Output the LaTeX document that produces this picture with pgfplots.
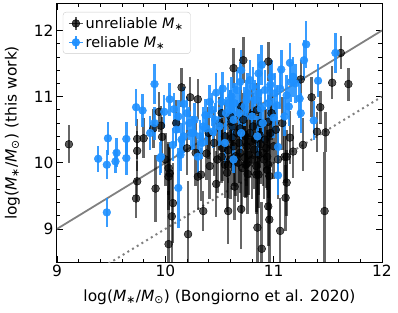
\documentclass[border=0pt]{standalone}
\usepackage{pgfplots}
\usepackage{pgfplotstable}
\pgfplotsset{compat=1.18}
\usepackage{fontspec}
\setmainfont{DejaVu Sans}
\definecolor{dblue}{RGB}{30,144,255}

\pgfplotstableread{
x y e
9.11 10.28 0.29
9.74 10.36 0.30
9.74 10.18 0.30
9.80 10.37 0.30
9.73 9.46 0.30
9.74 9.72 0.30
9.91 9.61 0.50
10.03 9.92 0.40
10.03 9.79 0.50
10.07 9.39 0.60
10.06 9.19 0.70
10.21 8.92 0.80
10.03 8.77 0.80
10.30 9.79 0.50
10.35 9.27 0.30
10.47 9.68 0.50
10.58 9.27 0.50
10.64 9.64 0.50
10.70 9.30 0.60
10.95 9.34 0.60
10.96 9.14 0.80
10.85 9.02 1.00
11.06 8.97 0.50
10.89 8.70 0.70
11.11 9.47 0.50
11.12 9.70 0.50
11.47 9.27 0.90
10.76 9.83 0.60
10.84 9.82 0.60
10.94 9.89 0.60
10.94 10.09 0.50
11.12 10.09 0.40
10.55 9.97 0.50
10.75 9.98 0.50
10.63 11.43 0.30
10.72 11.55 0.35
10.95 11.53 0.30
11.62 11.66 0.25
11.54 11.21 0.25
11.69 11.19 0.25
11.35 10.99 0.30
11.43 10.84 0.25
11.40 10.47 0.30
11.48 10.46 0.30
11.27 10.27 0.40
11.15 10.38 0.40
11.25 11.26 0.30
10.15 11.14 0.30
10.23 10.99 0.30
9.94 10.77 0.30
9.96 10.56 0.30
9.89 10.52 0.30
9.97 10.39 0.30
10.30 10.96 0.30
10.20 10.22 0.40
10.38 10.14 0.40
10.52 10.09 0.40
10.33 9.82 0.40
10.04 9.84 0.40
10.58 10.19 0.50
10.58 9.97 0.50
10.74 9.97 0.50
10.86 9.82 0.50
10.95 9.97 0.50
11.10 10.09 0.40
11.18 10.17 0.40
10.55 10.40 0.50
10.62 10.55 0.50
10.68 10.30 0.60
10.72 10.65 0.40
10.78 10.45 0.50
10.82 10.20 0.60
10.88 10.60 0.40
10.92 10.35 0.50
10.98 10.75 0.40
11.02 10.50 0.40
10.65 10.10 0.60
10.70 10.85 0.40
10.80 10.05 0.60
10.90 10.15 0.50
10.60 10.70 0.40
10.75 10.25 0.60
10.85 10.80 0.40
10.67 10.00 0.60
10.95 10.62 0.40
11.08 10.60 0.40
10.50 10.60 0.40
10.45 10.30 0.50
10.40 10.45 0.40
10.83 10.35 0.50
10.73 10.08 0.60
10.00 10.05 0.40
10.10 10.60 0.35
10.62 10.38 0.50
10.88 10.28 0.60
10.52 10.75 0.40
10.60 10.05 0.60
10.63 10.25 0.60
10.66 10.45 0.50
10.69 10.15 0.60
10.71 9.92 0.70
10.77 10.12 0.60
10.79 10.32 0.50
10.81 10.55 0.50
10.84 9.95 0.70
10.87 10.42 0.50
10.91 10.05 0.60
10.93 10.22 0.60
10.97 10.45 0.50
11.00 10.25 0.50
11.04 10.05 0.60
10.53 10.22 0.50
10.48 10.05 0.50
10.57 9.85 0.60
10.61 10.62 0.40
10.69 10.52 0.50
10.74 10.40 0.50
10.80 10.72 0.40
10.86 10.12 0.60
10.96 9.80 0.70
10.41 9.95 0.50
10.28 10.15 0.50
}\unrel

\pgfplotstableread{
x y e
9.38 10.06 0.20
9.47 10.37 0.25
9.46 9.97 0.22
9.54 10.02 0.18
9.55 10.15 0.22
9.64 10.36 0.25
9.64 10.07 0.25
9.73 10.84 0.28
9.79 10.79 0.25
9.46 9.25 0.22
9.90 11.19 0.30
9.96 10.09 0.25
9.99 10.77 0.25
10.04 10.96 0.25
10.08 10.81 0.25
10.17 10.89 0.25
10.12 9.62 0.60
9.86 10.45 0.25
9.90 10.60 0.25
9.95 10.07 0.25
10.07 10.27 0.25
10.14 10.12 0.25
10.17 10.40 0.25
10.24 10.45 0.25
10.32 10.40 0.25
10.38 10.52 0.25
10.44 10.47 0.25
10.30 10.09 0.25
10.27 10.65 0.25
10.37 10.72 0.25
10.43 10.80 0.25
10.15 10.35 0.25
10.26 10.45 0.25
10.41 10.92 0.25
10.47 11.06 0.30
10.53 11.12 0.25
10.52 10.92 0.25
10.69 11.22 0.30
10.78 11.25 0.30
10.63 10.05 0.20
11.04 10.24 0.30
11.04 9.81 0.30
11.25 10.75 0.30
11.37 10.64 0.30
11.30 11.79 0.35
11.57 11.66 0.30
11.41 11.24 0.25
11.28 11.55 0.30
11.15 11.51 0.30
11.07 11.41 0.30
10.98 11.30 0.25
10.89 11.48 0.30
10.86 11.35 0.30
10.81 11.15 0.30
10.66 11.10 0.30
10.61 11.00 0.30
11.12 11.02 0.30
11.03 10.87 0.30
11.14 10.85 0.30
10.86 11.05 0.30
11.01 11.05 0.30
11.24 10.97 0.30
10.35 10.55 0.30
10.63 10.65 0.30
10.50 10.55 0.30
10.73 10.85 0.30
10.80 10.70 0.30
10.90 10.60 0.30
10.95 10.90 0.30
10.70 10.45 0.30
10.55 10.30 0.30
10.85 10.40 0.30
10.60 10.80 0.30
11.10 10.70 0.30
11.20 11.20 0.30
10.75 10.95 0.30
10.92 11.10 0.30
11.18 11.30 0.30
10.70 11.40 0.30
10.58 10.90 0.30
10.20 10.75 0.25
10.10 10.50 0.25
10.22 10.60 0.25
10.34 10.30 0.25
10.46 10.65 0.25
10.56 10.75 0.25
10.64 10.90 0.30
10.76 11.05 0.30
10.83 10.95 0.30
10.97 11.18 0.30
11.06 11.12 0.30
11.16 11.22 0.30
10.68 10.75 0.30
10.88 10.82 0.30
11.00 10.68 0.30
10.12 10.70 0.25
}\rel

\begin{document}
\begin{tikzpicture}
\begin{axis}[
  scale only axis,
  width=325bp, height=258bp,
  xmin=9, xmax=12, ymin=8.5, ymax=12.4,
  xtick={9,10,11,12}, ytick={9,10,11,12},
  minor x tick num=4, minor y tick num=4,
  tick align=inside,
  major tick length=6bp, minor tick length=3.5bp,
  every tick/.style={black, line width=0.8bp},
  axis line style={line width=1bp},
  /pgf/number format/assume math mode=true,
  ticklabel style={font=\fontsize{15.5}{18}\selectfont},
  xlabel={log(\textit{M}\textsubscript{∗}/\textit{M}\textsubscript{⊙}) (Bongiorno et al. 2020)},
  ylabel={log(\textit{M}\textsubscript{∗}/\textit{M}\textsubscript{⊙}) (this work)},
  every axis x label/.style={at={(axis description cs:0.5,-0.136)}, anchor=center, font=\fontsize{15.5}{18}\selectfont},
  every axis y label/.style={at={(axis description cs:-0.137,0.5)}, rotate=90, anchor=center, font=\fontsize{15.5}{18}\selectfont},
  legend cell align=left,
  legend style={at={(axis description cs:0.018,0.969)}, anchor=north west,
    draw=black!20, rounded corners=3bp, font=\fontsize{14.5}{17}\selectfont,
    inner xsep=5bp, inner ysep=3bp, row sep=2.5bp},
]
\addplot[gray, line width=1.8bp, forget plot] coordinates {(9,9) (12,12)};
\addplot[gray, line width=2bp, dash pattern=on 2bp off 3.5bp, forget plot] coordinates {(9,8) (12,11)};

\addplot[only marks, mark=*, mark size=3.9bp, black, forget plot,
  mark options={fill=black, draw=none, fill opacity=0.65},
  error bars/.cd, y dir=both, y explicit, error mark=none,
  error bar style={line width=2.5bp, draw opacity=0.6}]
  table[x=x, y=y, y error=e] {\unrel};

\addplot[only marks, mark=*, mark size=3.9bp, dblue, forget plot,
  mark options={fill=dblue, draw=none, fill opacity=0.9},
  error bars/.cd, y dir=both, y explicit, error mark=none,
  error bar style={line width=2.5bp, draw opacity=0.88}]
  table[x=x, y=y, y error=e] {\rel};

\addlegendimage{legend image code/.code={
  \draw[black, draw opacity=0.65, line width=2.5bp] (0.45cm,-0.22cm)--(0.45cm,0.22cm);
  \draw[black, draw opacity=0.65, line width=1.5bp] (0.2cm,0cm)--(0.7cm,0cm);
  \fill[black, fill opacity=0.75] (0.45cm,0cm) circle (3.9bp);}}
\addlegendentry{unreliable \textit{M}\textsubscript{∗}}
\addlegendimage{legend image code/.code={
  \draw[dblue, draw opacity=0.88, line width=2.5bp] (0.45cm,-0.22cm)--(0.45cm,0.22cm);
  \draw[dblue, draw opacity=0.88, line width=1.5bp] (0.2cm,0cm)--(0.7cm,0cm);
  \fill[dblue, fill opacity=0.95] (0.45cm,0cm) circle (3.9bp);}}
\addlegendentry{reliable \textit{M}\textsubscript{∗}}
\end{axis}
\path (-57bp,-51bp) rectangle (341bp,262bp);
\end{tikzpicture}
\end{document}
